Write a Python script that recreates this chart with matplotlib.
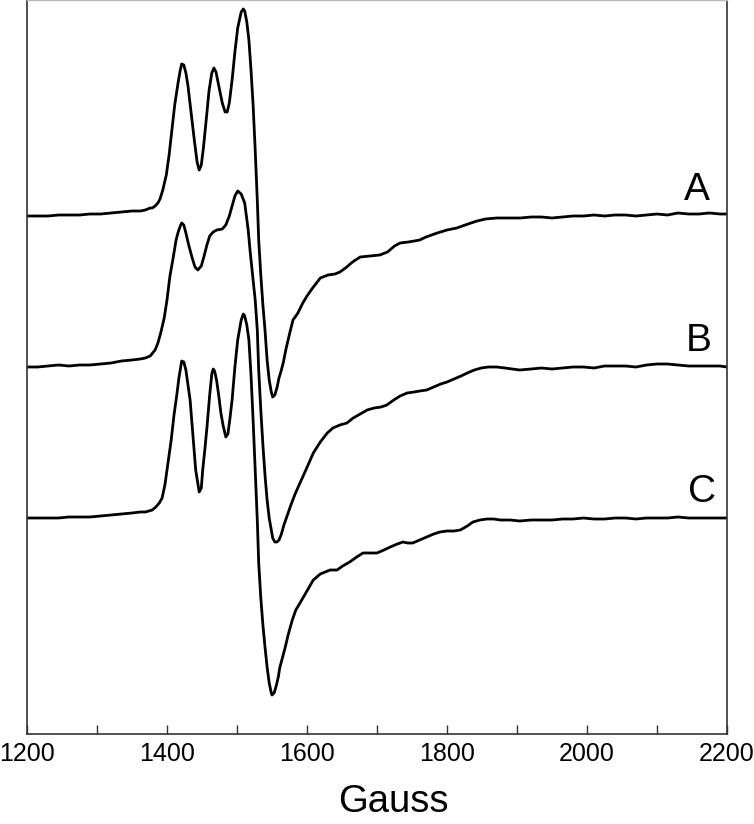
import matplotlib
matplotlib.use("Agg")
import matplotlib.pyplot as plt
from matplotlib.ticker import MultipleLocator

plt.rcParams['font.family'] = ['Liberation Sans', 'DejaVu Sans']

# field (Gauss) and signal (a.u., relative to each trace's baseline)
gauss_a = [1200, 1215, 1230, 1245, 1260, 1275, 1290, 1305, 1320, 1335, 1350, 1362, 1369, 1376, 1379,
           1383, 1387, 1390, 1394, 1399, 1403, 1407, 1411, 1416, 1419, 1421, 1424, 1427, 1430, 1434,
           1439, 1443, 1446, 1449, 1452, 1456, 1460, 1464, 1467, 1470, 1474, 1479, 1483, 1486, 1489,
           1493, 1497, 1501, 1506, 1509, 1511, 1514, 1517, 1520, 1523, 1526, 1529, 1531, 1534, 1537,
           1540, 1543, 1546, 1549, 1551, 1554, 1557, 1560, 1563, 1566, 1570, 1575, 1580, 1587, 1594,
           1600, 1608, 1619, 1630, 1640, 1647, 1655, 1665, 1676, 1690, 1704, 1715, 1725, 1733, 1745,
           1761, 1770, 1786, 1800, 1814, 1830, 1843, 1855, 1871, 1890, 1905, 1920, 1935, 1950, 1965,
           1980, 1995, 2010, 2025, 2040, 2055, 2070, 2085, 2100, 2115, 2130, 2145, 2160, 2175, 2190, 2200]
sig_a = [0, 0, 0, 1, 1, 1, 2, 2, 3, 4, 5, 5, 6, 8, 8,
         10, 13, 17, 26, 41, 61, 86, 111, 134, 146, 152, 151, 143, 130, 106,
         76, 54, 46, 51, 68, 96, 125, 143, 148, 144, 130, 113, 104, 104, 113,
         136, 164, 188, 204, 207, 205, 194, 176, 146, 111, 66, 16, -24, -59, -89,
         -114, -144, -164, -176, -181, -179, -172, -162, -155, -147, -133, -118, -104, -97, -87,
         -80, -72, -62, -59, -58, -56, -52, -46, -41, -40, -39, -36, -30, -27, -26,
         -24, -21, -17, -14, -12, -8, -5, -3, -2, -2, -2, -1, -1, -2, -1,
         0, 0, 1, 0, 1, 1, 0, 1, 2, 1, 3, 2, 2, 3, 2, 2]

gauss_b = [1200, 1215, 1230, 1245, 1260, 1275, 1290, 1305, 1320, 1335, 1350, 1362, 1369, 1376, 1383,
           1387, 1391, 1396, 1400, 1404, 1409, 1413, 1416, 1419, 1421, 1424, 1427, 1431, 1436, 1440,
           1444, 1449, 1453, 1457, 1461, 1466, 1471, 1479, 1484, 1489, 1493, 1497, 1501, 1506, 1511,
           1516, 1519, 1523, 1526, 1529, 1531, 1534, 1537, 1540, 1543, 1546, 1549, 1551, 1554, 1557,
           1560, 1563, 1567, 1571, 1577, 1583, 1590, 1599, 1609, 1619, 1629, 1637, 1647, 1657, 1666,
           1676, 1686, 1696, 1706, 1714, 1724, 1733, 1743, 1753, 1761, 1771, 1781, 1791, 1800, 1810,
           1820, 1829, 1839, 1849, 1859, 1871, 1883, 1893, 1904, 1920, 1935, 1950, 1965, 1980, 1995,
           2010, 2025, 2040, 2055, 2070, 2085, 2100, 2115, 2130, 2145, 2160, 2175, 2190, 2200]
sig_b = [0, 0, 1, 2, 1, 2, 2, 3, 4, 6, 7, 8, 9, 11, 17,
         24, 34, 49, 67, 90, 110, 127, 135, 141, 144, 142, 134, 122, 109, 100,
         97, 101, 111, 122, 131, 135, 137, 138, 142, 151, 161, 171, 176, 173, 164,
         137, 114, 87, 67, 37, -3, -43, -78, -108, -133, -151, -163, -171, -175, -175,
         -173, -168, -158, -150, -138, -127, -116, -102, -86, -75, -66, -61, -58, -56, -51,
         -47, -43, -41, -40, -38, -33, -29, -26, -25, -24, -23, -20, -17, -15, -12,
         -9, -6, -3, -1, 0, 0, -1, -2, -3, -2, -1, -2, -1, 0, 0,
         -1, 1, 1, 1, 0, 2, 3, 3, 2, 1, 1, 1, 1, 0]

gauss_c = [1200, 1215, 1230, 1245, 1260, 1275, 1290, 1305, 1320, 1335, 1350, 1362, 1369, 1379, 1384,
           1389, 1393, 1397, 1401, 1406, 1410, 1414, 1417, 1420, 1421, 1424, 1427, 1430, 1433, 1437,
           1441, 1446, 1449, 1451, 1454, 1457, 1461, 1464, 1466, 1468, 1471, 1474, 1477, 1480, 1484,
           1487, 1490, 1493, 1497, 1501, 1506, 1509, 1511, 1514, 1517, 1520, 1523, 1526, 1529, 1531,
           1534, 1537, 1540, 1543, 1546, 1549, 1550, 1553, 1556, 1559, 1561, 1564, 1569, 1573, 1579,
           1584, 1590, 1599, 1609, 1619, 1633, 1643, 1651, 1661, 1671, 1680, 1690, 1700, 1710, 1719,
           1729, 1737, 1744, 1751, 1761, 1771, 1781, 1790, 1800, 1810, 1819, 1829, 1837, 1847, 1857,
           1867, 1876, 1890, 1904, 1920, 1935, 1950, 1965, 1980, 1995, 2010, 2025, 2040, 2055, 2070,
           2085, 2100, 2115, 2130, 2145, 2160, 2175, 2190, 2200]
sig_c = [0, 0, 0, 0, 1, 1, 1, 2, 3, 4, 5, 6, 6, 8, 11,
         15, 20, 33, 53, 78, 103, 123, 140, 153, 157, 156, 148, 133, 118, 83,
         48, 26, 30, 48, 68, 90, 123, 144, 149, 147, 137, 122, 105, 93, 81,
         84, 100, 118, 151, 178, 198, 204, 202, 193, 178, 143, 98, 48, -2, -45,
         -80, -107, -129, -149, -165, -175, -177, -175, -168, -159, -150, -142, -129, -117, -102,
         -92, -85, -74, -62, -56, -52, -52, -48, -44, -39, -35, -35, -35, -32, -29,
         -26, -24, -25, -25, -22, -19, -16, -14, -13, -13, -12, -8, -4, -2, -1,
         -1, -2, -2, -3, -2, -2, -2, -1, -1, 0, -1, -1, 0, 0, -1,
         0, 0, 0, 1, 0, 0, 0, 0, 0]

labels = ['A', 'B', 'C']
offsets = [518, 367, 216]

fig = plt.figure(figsize=(7.54, 8.24), dpi=100)
ax = fig.add_axes([27 / 754, 90 / 824, 700 / 754, 734 / 824])

for g, s, off in zip([gauss_a, gauss_b, gauss_c], [sig_a, sig_b, sig_c], offsets):
    ax.plot(g, [v + off for v in s], color='black', lw=2.0, solid_joinstyle='round')

# trace letters sit just above the right end of each baseline
for lab, off, gx in zip(labels, offsets, [2157, 2159, 2164]):
    ax.text(gx, off + 16, lab, fontsize=28, ha='center', va='baseline')

ax.set_xlim(1200, 2200)
ax.set_ylim(0, 734)
ax.set_yticks([])
ax.xaxis.set_major_locator(MultipleLocator(200))
ax.xaxis.set_minor_locator(MultipleLocator(100))
ax.tick_params(axis='x', which='both', direction='in', length=6.5, width=1.0,
               color='#333333', labelsize=18, pad=6)

for side in ['left', 'right', 'bottom']:
    ax.spines[side].set_color('#333333')
    ax.spines[side].set_linewidth(1.2)
ax.spines['top'].set_color('#bbbbbb')
ax.spines['top'].set_linewidth(1.0)

fig.text(393 / 754, 12 / 824, 'Gauss', fontsize=27.5, ha='center', va='baseline')

fig.savefig('out.png', dpi=100)
